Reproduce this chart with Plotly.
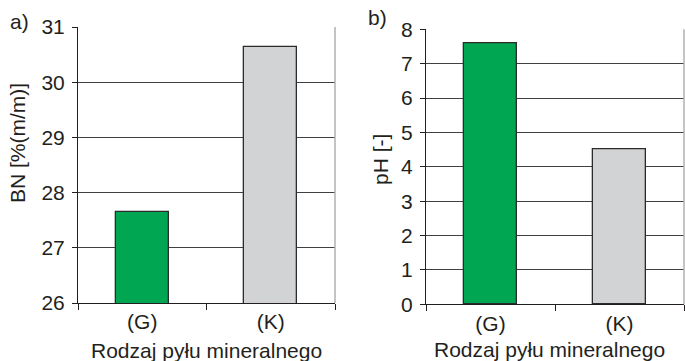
import plotly.graph_objects as go

categories = ["(G)", "(K)"]
bn_values = [27.64, 30.64]
ph_values = [7.58, 4.51]
bar_colors = ["#00a651", "#d1d3d4"]
bn_ticks = [26, 27, 28, 29, 30, 31]
ph_ticks = [0, 1, 2, 3, 4, 5, 6, 7, 8]

W, H = 685, 361
FONT = "Liberation Sans, Arial, sans-serif"
FS = 21

fig = go.Figure()
fig.add_trace(go.Bar(x=categories, y=bn_values, marker=dict(color=bar_colors, line=dict(color="#2b2b2b", width=1.3)),
                     width=0.41, xaxis="x", yaxis="y", showlegend=False))
fig.add_trace(go.Bar(x=categories, y=ph_values, marker=dict(color=bar_colors, line=dict(color="#2b2b2b", width=1.3)),
                     width=0.41, xaxis="x2", yaxis="y2", showlegend=False))

def px(v):
    return v / W

def py(v):
    return 1 - v / H

axis_font = dict(family=FONT, size=FS, color="#231f20")
common_x = dict(type="category", showline=True, linecolor="#231f20", linewidth=1, ticks="outside",
                tickson="boundaries", ticklen=6, tickcolor="#231f20", showgrid=False, tickfont=axis_font,
                automargin=False)
common_y = dict(showline=True, linecolor="#231f20", linewidth=1, ticks="outside", ticklen=5,
                tickcolor="#231f20", showgrid=True, gridcolor="#404040", gridwidth=1, tickfont=axis_font,
                zeroline=False, ticklabelstandoff=3, automargin=False)

fig.update_layout(
    width=W, height=H, margin=dict(l=0, r=0, t=0, b=0, autoexpand=False),
    paper_bgcolor="white", plot_bgcolor="white", bargap=0,
    font=dict(family=FONT, color="#231f20"),
    xaxis=dict(domain=[px(78), px(335)], anchor="y", **common_x),
    yaxis=dict(domain=[py(303), py(27)], anchor="x", range=[26, 31], tickvals=bn_ticks, **common_y),
    xaxis2=dict(domain=[px(426), px(684)], anchor="y2", **common_x),
    yaxis2=dict(domain=[py(304.3), py(29.3)], anchor="x2", range=[0, 8], tickvals=ph_ticks, **common_y),
)

# right borders (light gray)
for xr, yr in [("x domain", "y domain"), ("x2 domain", "y2 domain")]:
    fig.add_shape(type="line", xref=xr, yref=yr, x0=1, x1=1, y0=0, y1=1,
                  line=dict(color="#b0b0b0", width=1.5))

annots = [
    dict(text="a)", x=px(19), y=py(21)),
    dict(text="b)", x=px(377), y=py(18)),
    dict(text="Rodzaj pyłu mineralnego", x=px(206), y=py(350)),
    dict(text="Rodzaj pyłu mineralnego", x=px(549), y=py(349)),
    dict(text="BN [%(m/m)]", x=px(17), y=py(143), textangle=-90),
    dict(text="pH [-]", x=px(380), y=py(160), textangle=-90),
]
for a in annots:
    fig.add_annotation(xref="paper", yref="paper", showarrow=False, xanchor="center", yanchor="middle",
                       font=dict(family=FONT, size=FS, color="#231f20"), **a)

fig.write_html("out.html", config={"displayModeBar": False},
               post_script="document.body.style.margin='0';document.body.style.overflow='hidden';")
